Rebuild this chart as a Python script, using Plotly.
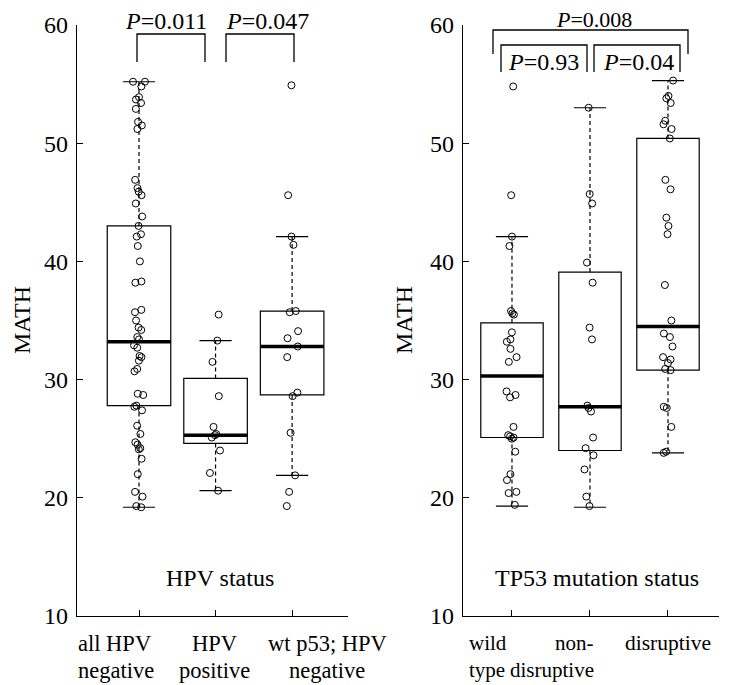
import plotly.graph_objects as go

W, H = 737, 685
OFF = 8  # page body margin in the screenshot
FONT = "Liberation Serif"
FS = 24

# ---------------- data ----------------
hpv_cats = ["all HPV negative", "HPV positive", "wt p53; HPV negative"]
tp53_cats = ["wild type", "non-disruptive", "disruptive"]
hpv_tick_lines = [("all HPV", "negative"), ("HPV", "positive"), ("wt p53; HPV", "negative")]
tp53_tick_lines = [("wild", "type"), ("non-", "disruptive"), ("disruptive", "")]

hpv_all_neg = [55.2, 55.2, 54.8, 53.9, 53.7, 53.4, 52.9, 51.8, 51.5, 51.2, 46.9, 46.2,
               45.9, 45.6, 44.9, 43.8, 43.0, 42.3, 42.1, 41.3, 40.0, 38.3, 38.2, 35.9,
               35.7, 35.0, 34.4, 34.2, 33.6, 33.4, 32.9, 32.7, 32.0, 31.9, 31.6, 30.9,
               30.7, 28.8, 28.7, 27.8, 27.7, 27.4, 26.1, 25.4, 24.7, 24.5, 24.2, 24.1,
               23.3, 22.0, 20.5, 20.1, 19.3, 19.2]
hpv_positive = [35.5, 33.3, 31.5, 28.6, 26.0, 25.4, 25.3, 25.1, 24.0, 22.1, 20.6]
wt_p53_hpv_neg = [54.9, 45.6, 42.1, 41.4, 35.8, 35.7, 34.1, 33.5, 32.8, 31.9, 28.9,
                  28.6, 25.5, 21.9, 20.5, 19.3]

tp53_wild = [54.8, 45.6, 42.1, 41.3, 35.8, 35.5, 35.6, 34.0, 33.4, 33.2, 32.6, 31.9,
             31.5, 29.0, 28.7, 28.5, 26.0, 25.3, 25.2, 25.1, 25.0, 23.9, 22.0, 21.5,
             20.5, 20.4, 19.4]
tp53_nondisruptive = [53.0, 45.7, 44.9, 39.9, 38.2, 34.4, 33.4, 27.8, 27.6, 27.3, 25.1,
                      24.2, 23.6, 22.4, 20.1, 19.3]
tp53_disruptive = [55.3, 54.0, 53.8, 53.4, 51.9, 51.6, 51.2, 50.4, 46.9, 46.1, 43.7,
                   43.0, 42.3, 38.0, 35.0, 33.9, 33.6, 32.8, 31.9, 31.7, 31.4, 30.9,
                   30.8, 27.7, 27.6, 26.0, 23.9, 23.8]

# box statistics
hpv_q1 = [27.8, 24.6, 28.7]
hpv_median = [33.2, 25.3, 32.8]
hpv_q3 = [43.0, 30.1, 35.8]
hpv_lower = [19.2, 20.6, 21.9]
hpv_upper = [55.2, 33.3, 42.1]

tp53_q1 = [25.1, 24.0, 30.8]
tp53_median = [30.3, 27.7, 34.5]
tp53_q3 = [34.8, 39.1, 50.4]
tp53_lower = [19.3, 19.2, 23.8]
tp53_upper = [42.1, 53.0, 55.3]

y_ticks = [10, 20, 30, 40, 50, 60]

# ---------------- figure ----------------
fig = go.Figure()


def add_panel(xa, ya, cats, groups, q1, med, q3, lo, hi, bw):
    # box (precomputed; no whiskers)
    fig.add_trace(go.Box(
        x=cats, q1=q1, median=med, q3=q3, lowerfence=q1, upperfence=q3,
        width=bw, whiskerwidth=0, boxpoints=False,
        fillcolor="rgba(0,0,0,0)", line=dict(color="black", width=1.2),
        xaxis=xa, yaxis=ya, showlegend=False, hoverinfo="skip"))
    # jittered points
    px, py = [], []
    for c, g in zip(cats, groups):
        px += [c] * len(g)
        py += g
    fig.add_trace(go.Box(
        x=px, y=py, width=bw, boxpoints="all", jitter=0.2, pointpos=0,
        fillcolor="rgba(0,0,0,0)", line=dict(color="rgba(0,0,0,0)", width=0),
        marker=dict(symbol="circle-open", size=7, color="black",
                    line=dict(color="black", width=1)),
        xaxis=xa, yaxis=ya, showlegend=False, hoverinfo="skip"))
    # dashed whiskers
    wx, wy = [], []
    for c, a, b, l, h in zip(cats, q1, q3, lo, hi):
        wx += [c, c, None, c, c, None]
        wy += [b, h, None, a, l, None]
    fig.add_trace(go.Scatter(
        x=wx, y=wy, mode="lines",
        line=dict(color="black", width=1.2, dash="4px,3px"),
        xaxis=xa, yaxis=ya, showlegend=False, hoverinfo="skip"))
    # whisker caps
    fig.add_trace(go.Scatter(
        x=cats + cats, y=lo + hi, mode="markers",
        marker=dict(symbol="line-ew", size=23, color="black",
                    line=dict(color="black", width=1.2)),
        xaxis=xa, yaxis=ya, showlegend=False, hoverinfo="skip"))
    # thick median
    fig.add_trace(go.Scatter(
        x=cats, y=med, mode="markers",
        marker=dict(symbol="line-ew", size=45, color="black",
                    line=dict(color="black", width=3.5)),
        xaxis=xa, yaxis=ya, showlegend=False, hoverinfo="skip"))


add_panel("x", "y", hpv_cats, [hpv_all_neg, hpv_positive, wt_p53_hpv_neg],
          hpv_q1, hpv_median, hpv_q3, hpv_lower, hpv_upper, 0.83)
add_panel("x2", "y2", tp53_cats, [tp53_wild, tp53_nondisruptive, tp53_disruptive],
          tp53_q1, tp53_median, tp53_q3, tp53_lower, tp53_upper, 0.80)

tick_font = dict(family=FONT, size=FS, color="black")


def PX(x):
    return (x - OFF) / W


def PY(y):
    return 1 - (y - OFF) / H


ydom = [PY(616), PY(25)]

xcommon = dict(type="category", showline=True, linecolor="black", linewidth=1.3,
               ticks="inside", ticklen=6, tickwidth=1.2, tickcolor="black",
               showgrid=False, zeroline=False, showticklabels=False, automargin=False)
ycommon = dict(range=[10, 60], tickvals=y_ticks, showline=True, linecolor="black",
               linewidth=1.3, ticks="inside", ticklen=6, tickwidth=1.2,
               tickcolor="black", showgrid=False, zeroline=False, tickfont=tick_font,
               domain=ydom, ticklabelstandoff=3, automargin=False)

fig.update_layout(
    width=W, height=H, margin=dict(l=0, r=0, t=0, b=0, autoexpand=False),
    paper_bgcolor="white", plot_bgcolor="white", boxmode="overlay",
    xaxis=dict(domain=[PX(77), PX(348)], range=[-0.81, 2.73], **xcommon),
    xaxis2=dict(domain=[PX(463), PX(719)], range=[-0.628, 2.654], anchor="y2", **xcommon),
    yaxis=dict(anchor="x", **ycommon),
    yaxis2=dict(anchor="x2", **ycommon),
)

annots = []


def text(t, x, y, size=FS, angle=0, anchor="center"):
    annots.append(dict(text=t, x=PX(x), y=PY(y), xref="paper", yref="paper",
                       showarrow=False, xanchor=anchor, yanchor="middle", align=anchor,
                       textangle=angle, font=dict(family=FONT, size=size, color="black")))


text("<i>P</i>=0.011", 166, 21)
text("<i>P</i>=0.047", 267, 21)
text("<i>P</i>=0.008", 594, 20, size=22)
text("<i>P</i>=0.93", 543, 62)
text("<i>P</i>=0.04", 638, 62)
text("HPV status", 220, 578)
text("TP53 mutation status", 597, 578)
text("MATH", 22, 320, angle=-90)
text("MATH", 404, 320, angle=-90)

# category tick labels (placed as in the reference)
hpv_label_pos = [(76, "left", 22.5), (214, "center", 22.5), (327, "center", 22.5)]
tp53_label_pos = [(467, "left", 21), (596, "right", 21), (668, "center", 21.5)]
for lines, poss in ((hpv_tick_lines, hpv_label_pos), (tp53_tick_lines, tp53_label_pos)):
    for (l1, l2), (x, anc, fs) in zip(lines, poss):
        text(l1, x, 643, size=fs, anchor=anc)
        if l2:
            text(l2, x, 670, size=fs, anchor=anc)

shapes = []


def bracket(x0, x1, ytop, ybot):
    shapes.append(dict(type="path", xref="paper", yref="paper",
                       path=(f"M{PX(x0)},{PY(ybot)} L{PX(x0)},{PY(ytop)} "
                             f"L{PX(x1)},{PY(ytop)} L{PX(x1)},{PY(ybot)}"),
                       line=dict(color="black", width=1.3)))


bracket(137, 205, 34, 62)
bracket(226, 294, 34, 62)
bracket(493, 688, 30, 54)
bracket(501, 587, 45, 72)
bracket(594, 680, 45, 72)

fig.update_layout(annotations=annots, shapes=shapes)

fig.write_html("out.html")
